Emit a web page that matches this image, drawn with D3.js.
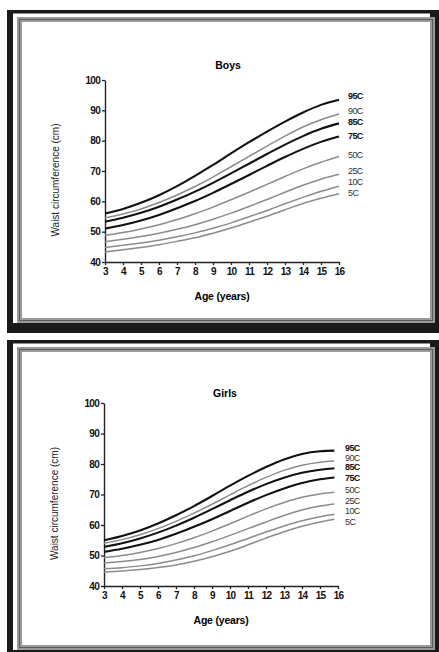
<!DOCTYPE html>
<html lang="en">
<head>
<meta charset="UTF-8">
<script src="https://d3js.org/d3.v7.min.js"></script>
<title>Waist circumference percentiles</title>
<style>
  body { margin: 0; background: #fff; }
  text { font-family: "Liberation Sans", Arial, sans-serif; }
</style>
</head>
<body>
<div id="chart"></div>
<script>
// ages (years)
var ages = [3, 4, 5, 6, 7, 8, 9, 10, 11, 12, 13, 14, 15, 16];
var girlAges = [3, 4, 5, 6, 7, 8, 9, 10, 11, 12, 13, 14, 15, 15.8];
var centiles = ["95C", "90C", "85C", "75C", "50C", "25C", "10C", "5C"];
var boldCentiles = ["95C", "85C", "75C"];
var xTicks = [3, 4, 5, 6, 7, 8, 9, 10, 11, 12, 13, 14, 15, 16];
var yTicks = [40, 50, 60, 70, 80, 90, 100];

// boys waist circumference (cm)
var boys95 = [56, 57.5, 59.5, 62, 65, 68.4, 72, 75.8, 79.5, 83, 86.3, 89.3, 91.8, 93.5];
var boys90 = [54.5, 55.8, 57.5, 59.6, 62.1, 64.9, 68, 71.4, 74.8, 78.2, 81.5, 84.5, 86.9, 88.8];
var boys85 = [53.3, 54.6, 56.2, 58.2, 60.6, 63.2, 66.1, 69.2, 72.4, 75.6, 78.7, 81.5, 83.9, 85.7];
var boys75 = [51, 52.2, 53.7, 55.5, 57.7, 60.1, 62.8, 65.7, 68.7, 71.7, 74.6, 77.3, 79.6, 81.4];
var boys50 = [48.7, 49.7, 50.9, 52.3, 54, 55.9, 58.1, 60.5, 63, 65.6, 68.2, 70.7, 72.9, 74.8];
var boys25 = [46.7, 47.5, 48.4, 49.5, 50.8, 52.3, 54.1, 56.1, 58.3, 60.6, 63, 65.3, 67.3, 68.9];
var boys10 = [44.8, 45.5, 46.3, 47.2, 48.3, 49.6, 51.1, 52.9, 54.9, 57, 59.2, 61.3, 63.3, 65];
var boys5 = [43.3, 44, 44.8, 45.7, 46.8, 48, 49.5, 51.2, 53.1, 55.1, 57.2, 59.3, 61, 62.5];

// girls waist circumference (cm)
var girls95 = [55, 56.4, 58.2, 60.5, 63.2, 66.2, 69.5, 72.9, 76.1, 79, 81.5, 83.3, 84.2, 84.4];
var girls90 = [54, 55.2, 56.8, 58.8, 61.2, 63.9, 66.8, 69.9, 72.9, 75.6, 77.9, 79.6, 80.6, 81];
var girls85 = [52.8, 54, 55.6, 57.5, 59.8, 62.4, 65.2, 68.1, 70.9, 73.4, 75.5, 77.1, 78.1, 78.6];
var girls75 = [51.2, 52.2, 53.5, 55.1, 57.1, 59.4, 61.9, 64.6, 67.3, 69.8, 72, 73.8, 75, 75.6];
var girls50 = [49.3, 50, 51, 52.3, 53.9, 55.8, 58, 60.4, 62.9, 65.3, 67.4, 69.1, 70.2, 70.7];
var girls25 = [47.5, 48, 48.7, 49.7, 51, 52.6, 54.5, 56.6, 58.8, 61, 63.1, 64.9, 66.2, 66.9];
var girls10 = [45.7, 46, 46.6, 47.4, 48.5, 49.9, 51.6, 53.5, 55.6, 57.7, 59.7, 61.4, 62.7, 63.5];
var girls5 = [44.6, 44.9, 45.4, 46.1, 46.9, 48.1, 49.6, 51.4, 53.5, 55.7, 57.8, 59.6, 61, 61.9];

var W = 439, H = 652;
var svg = d3.select("#chart").append("svg")
    .attr("width", W).attr("height", H);

// one framed panel
function drawPanel(cfg) {
    var f = cfg.frame;
    // picture frame
    svg.append("rect").attr("x", 7).attr("y", f.top).attr("width", W).attr("height", f.bottom - f.top)
        .attr("fill", "#1a1a1a");
    svg.append("rect").attr("x", 13).attr("y", f.top + 3.5).attr("width", 417).attr("height", f.bottom - f.top - 13.5)
        .attr("fill", "#fff");
    svg.append("rect").attr("x", 19.5).attr("y", f.top + 9.5).attr("width", 413).attr("height", f.bottom - f.top - 22)
        .attr("fill", "#fff").attr("stroke", "#9a9a9a").attr("stroke-width", 5);
    svg.append("rect").attr("x", 19.5).attr("y", f.top + 9.5).attr("width", 413).attr("height", f.bottom - f.top - 22)
        .attr("fill", "none").attr("stroke", "#5a5a5a").attr("stroke-width", 1);

    var x = d3.scaleLinear().domain([3, 16]).range([cfg.left, cfg.right]);
    var y = d3.scaleLinear().domain([40, 100]).range([cfg.y40, cfg.y100]);

    var g = svg.append("g");

    // axes
    var xAxis = d3.axisBottom(x).tickValues(xTicks).tickSize(3).tickPadding(3).tickSizeOuter(0);
    var yAxis = d3.axisLeft(y).tickValues(yTicks).tickSize(3).tickPadding(2).tickSizeOuter(0);

    var gx = g.append("g").attr("transform", "translate(0," + cfg.y40 + ")").call(xAxis);
    var gy = g.append("g").attr("transform", "translate(" + cfg.left + ",0)").call(yAxis);
    [gx, gy].forEach(function (a) {
        a.select(".domain").attr("stroke", "#222").attr("stroke-width", 1.4);
        a.selectAll(".tick line").attr("stroke", "#222").attr("stroke-width", 1.3);
        a.selectAll(".tick text").attr("fill", "#111").style("font-size", "10px")
            .style("font-weight", "bold").style("letter-spacing", "-0.7px");
    });

    // curves
    var line = d3.line()
        .x(function (d, i) { return x(cfg.ages[i]); })
        .y(function (d) { return y(d); })
        .curve(d3.curveMonotoneX);

    cfg.series.forEach(function (s, k) {
        var bold = boldCentiles.indexOf(centiles[k]) >= 0;
        g.append("path").datum(s)
            .attr("d", line)
            .attr("fill", "none")
            .attr("stroke", bold ? "#111" : "#8c8c8c")
            .attr("stroke-width", bold ? 2.1 : 1.5);
        g.append("text")
            .attr("x", cfg.labelX)
            .attr("y", y(s[s.length - 1]) - cfg.labelShift[k])
            .attr("dy", "0.35em")
            .attr("fill", bold ? "#111" : "#333")
            .style("font-size", "9px")
            .style("font-weight", bold ? "bold" : "normal")
            .style("letter-spacing", "-0.6px")
            .text(centiles[k]);
    });

    // titles
    g.append("text").attr("x", cfg.titleX).attr("y", cfg.titleY).attr("text-anchor", "middle")
        .attr("dy", "0.35em").style("font-size", "10.5px").style("font-weight", "bold").text(cfg.title);
    g.append("text").attr("x", (cfg.left + cfg.right) / 2).attr("y", cfg.y40 + 34).attr("text-anchor", "middle")
        .attr("dy", "0.35em").style("font-size", "10.5px").style("font-weight", "bold")
        .style("letter-spacing", "-0.2px").text("Age (years)");
    g.append("text")
        .attr("transform", "translate(" + (cfg.left - 50) + "," + ((cfg.y40 + cfg.y100) / 2 + 9) + ") rotate(-90)")
        .attr("text-anchor", "middle").attr("dy", "0.35em")
        .style("font-size", "10px").attr("fill", "#222")
        .text("Waist circumference (cm)");
}

drawPanel({
    title: "Boys", titleX: 228, titleY: 65,
    frame: { top: 10, bottom: 333 },
    left: 105, right: 339, y40: 262, y100: 80,
    ages: ages,
    series: [boys95, boys90, boys85, boys75, boys50, boys25, boys10, boys5],
    labelX: 348, labelShift: [4, 3, 2, 1, 2, 3, 4, 1]
});

drawPanel({
    title: "Girls", titleX: 225, titleY: 393,
    frame: { top: 340, bottom: 660 },
    left: 104, right: 338, y40: 586, y100: 403,
    ages: girlAges,
    series: [girls95, girls90, girls85, girls75, girls50, girls25, girls10, girls5],
    labelX: 345, labelShift: [3, 3, 1, 0, 3, 3, 3, -3]
});
</script>
</body>
</html>
